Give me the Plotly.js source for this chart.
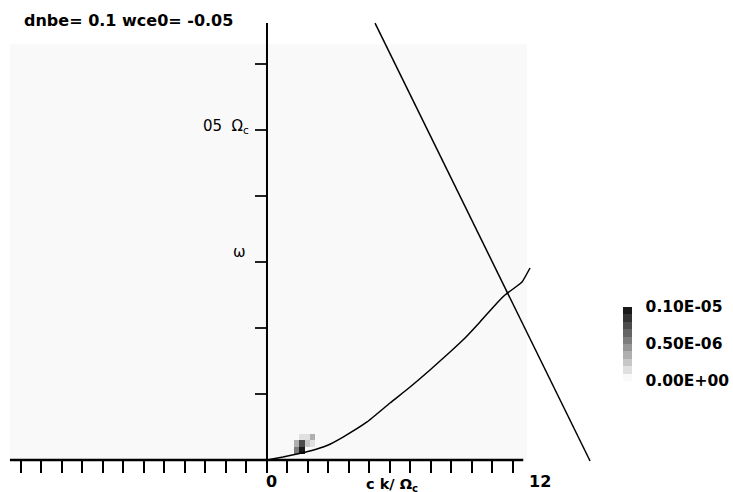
<!DOCTYPE html>
<html>
<head>
<meta charset="utf-8">
<script src="https://cdn.plot.ly/plotly-3.0.1.min.js"></script>
<style>html,body{margin:0;padding:0;background:#fff;}#chart{width:733px;height:492px;}</style>
</head>
<body>
<div id="chart"></div>
<script>
// ---- data ----
const titleText = "dnbe= 0.1 wce0= -0.05";
// dispersion curve (c k / Ωc , ω / Ωc)
const curveK = [0, 0.78, 1.46, 2.10, 2.93, 3.71, 4.88, 6.00, 6.98, 7.95, 8.93, 9.66, 10.39, 11.22, 11.61, 12.00, 12.44, 12.83];
const curveW = [0, 0.0045, 0.0091, 0.0136, 0.0220, 0.0348, 0.0576, 0.0864, 0.1106, 0.1364, 0.1636, 0.1848, 0.2091, 0.2379, 0.2500, 0.2591, 0.2697, 0.2909];
// straight resonance line
const lineK = [5.27, 15.76];
const lineW = [0.662, -0.0015];
// non-zero spectral cells
const hotK = [1.70, 1.70, 1.45, 1.45, 1.95, 1.95, 2.20, 1.70, 2.20, 1.95, 1.20, -1.50, -1.75, -1.25, -1.50, -2.00, 2.45, 2.70];
const hotW = [0.015, 0.025, 0.015, 0.025, 0.025, 0.035, 0.035, 0.035, 0.025, 0.045, 0.005, 0.005, 0.005, 0.015, 0.025, 0.005, 0.045, 0.055];
const hotZ = [1.0e-6, 0.75e-6, 0.55e-6, 0.3e-6, 0.2e-6, 0.15e-6, 0.3e-6, 0.12e-6, 0.1e-6, 0.08e-6, 0.08e-6, 0.06e-6, 0.05e-6, 0.04e-6, 0.03e-6, 0.03e-6, 0.05e-6, 0.03e-6];
const xTicks = [-12,-11,-10,-9,-8,-7,-6,-5,-4,-3,-2,-1,0,1,2,3,4,5,6,7,8,9,10,11,12];
const yTicks = [0.1, 0.2, 0.3, 0.4, 0.5, 0.6];
const cbVals = [0, 5e-7, 1e-6];
const cbText = ["0.00E+00", "0.50E-06", "0.10E-05"];

// ---- grid ----
const nx = 100, ny = 63, gx0 = -12.54, gdx = 0.2522, gy0 = 0, gdy = 0.01;
const z = [];
for (let j = 0; j < ny; j++) z.push(new Array(nx).fill(0));
for (let k = 0; k < hotK.length; k++) {
  const i = Math.floor((hotK[k] - gx0) / gdx);
  const j = Math.floor((hotW[k] - gy0) / gdy);
  if (i >= 0 && i < nx && j >= 0 && j < ny) z[j][i] = hotZ[k];
}
// stepped gray colorscale
const nSteps = 10, cs = [];
for (let s = 0; s < nSteps; s++) {
  const g = Math.round(249 - s * (249 - 26) / (nSteps - 1));
  const c = `rgb(${g},${g},${g})`;
  cs.push([s / nSteps, c]); cs.push([(s + 1) / nSteps, c]);
}

const bold = {family: "DejaVu Sans", size: 16, color: "#000", weight: "bold"};
const traces = [
  {type: "heatmap", z: z, x0: gx0 + gdx / 2, dx: gdx, y0: gy0 + gdy / 2, dy: gdy,
   zmin: 0, zmax: 1e-6, colorscale: cs, zsmooth: false, hoverinfo: "skip",
   colorbar: {x: 1.037, xanchor: "left", y: 0.265, yanchor: "middle", len: 74, lenmode: "pixels",
     thickness: 9, outlinewidth: 0, borderwidth: 0, xpad: 0, ypad: 0,
     ticks: "outside", ticklen: 11, tickcolor: "rgba(0,0,0,0)",
     tickvals: cbVals, ticktext: cbText,
     tickfont: {family: "DejaVu Sans", size: 15.5, color: "#000", weight: "bold"}}},
  {type: "scatter", mode: "lines", x: curveK, y: curveW, line: {color: "#000", width: 1.5, shape: "spline", smoothing: 0.4}, hoverinfo: "skip", showlegend: false},
  {type: "scatter", mode: "lines", x: lineK, y: lineW, line: {color: "#000", width: 1.5}, hoverinfo: "skip", showlegend: false}
];

const layout = {
  width: 733, height: 492,
  margin: {l: 9, r: 132, t: 11, b: 28, autoexpand: false},
  paper_bgcolor: "#fff", plot_bgcolor: "#fff",
  showlegend: false,
  xaxis: {range: [-12.585, 16.293], anchor: "free", position: 0.00883,
    showgrid: false, zeroline: false, showline: false, showticklabels: false,
    tickmode: "array", tickvals: xTicks, ticks: "outside", ticklen: 12, tickwidth: 2, tickcolor: "#000"},
  yaxis: {range: [-0.00606, 0.6803], anchor: "free", position: 0.4358,
    showgrid: false, zeroline: false, showline: false, showticklabels: false,
    tickmode: "array", tickvals: yTicks, ticks: "outside", ticklen: 12, tickwidth: 1.5, tickcolor: "#222"},
  shapes: [
    {type: "line", xref: "x", yref: "y", x0: -12.54, x1: 12.5, y0: 0, y1: 0, line: {color: "#000", width: 2.5}, layer: "above"},
    {type: "line", xref: "x", yref: "y", x0: 0, x1: 0, y0: 0, y1: 0.662, line: {color: "#000", width: 2}, layer: "above"}
  ],
  annotations: [
    {text: titleText, xref: "paper", yref: "paper", x: 0.022, y: 0.980, xanchor: "left", yanchor: "middle", showarrow: false, font: bold},
    {text: "05  Ω<sub>c</sub>", xref: "x", yref: "y", x: -0.8, y: 0.505, xanchor: "right", yanchor: "middle", showarrow: false, font: {family: "DejaVu Sans", size: 15, color: "#000"}},
    {text: "ω", xref: "x", yref: "y", x: -0.95, y: 0.315, xanchor: "right", yanchor: "middle", showarrow: false, font: {family: "DejaVu Sans", size: 15, color: "#000"}},
    {text: "0", xref: "paper", yref: "paper", x: 0.4307, y: -0.0397, xanchor: "left", yanchor: "middle", showarrow: false, font: bold},
    {text: "c k/ Ω<sub>c</sub>", xref: "paper", yref: "paper", x: 0.6014, y: -0.0243, xanchor: "left", yanchor: "top", showarrow: false, borderpad: 0, font: {family: "DejaVu Sans", size: 14.5, color: "#000", weight: "bold"}},
    {text: "12", xref: "paper", yref: "paper", x: 0.875, y: -0.0397, xanchor: "left", yanchor: "middle", showarrow: false, font: bold}
  ]
};
Plotly.newPlot("chart", traces, layout, {staticPlot: true, displayModeBar: false});
</script>
</body>
</html>
